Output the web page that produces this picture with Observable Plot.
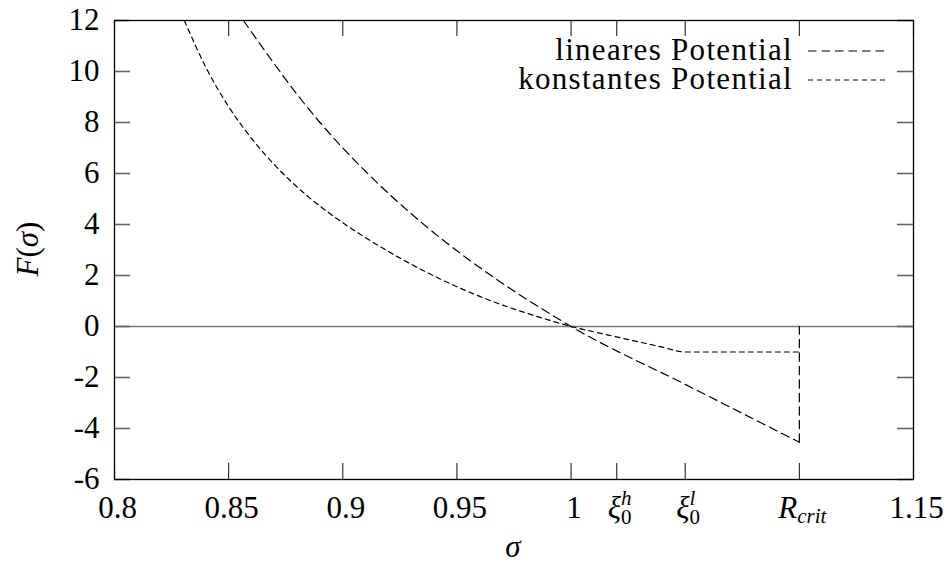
<!DOCTYPE html>
<html>
<head>
<meta charset="utf-8">
<script src="https://cdn.jsdelivr.net/npm/d3@7"></script>
<script src="https://cdn.jsdelivr.net/npm/@observablehq/plot@0.6"></script>
<style>
  html, body { margin: 0; padding: 0; background: #fff; }
</style>
</head>
<body>
<script>
// ---- data ----
const constSigma = [0.8306, 0.84, 0.85, 0.86, 0.87, 0.88, 0.89, 0.90, 0.91, 0.92, 0.93, 0.94, 0.95, 0.96, 0.97, 0.98, 0.99, 1.00, 1.01, 1.02, 1.03, 1.04, 1.05, 1.10];
const constF     = [12.0, 10.17, 8.62, 7.38, 6.35, 5.47, 4.72, 4.07, 3.48, 2.94, 2.44, 1.98, 1.56, 1.18, 0.84, 0.54, 0.26, 0.0, -0.21, -0.41, -0.61, -0.81, -1.0, -1.0];

const linSigma = [0.8565, 0.86, 0.87, 0.88, 0.89, 0.90, 0.91, 0.92, 0.93, 0.94, 0.95, 0.96, 0.97, 0.98, 0.99, 1.00, 1.05, 1.10, 1.10];
const linF     = [12.0, 11.55, 10.3, 9.1, 8.0, 7.0, 6.08, 5.22, 4.42, 3.67, 2.97, 2.31, 1.69, 1.1, 0.54, 0.0, -2.27, -4.54, 0.0];

const yTicks = [-6, -4, -2, 0, 2, 4, 6, 8, 10, 12];
const xTicks = [0.8, 0.85, 0.9, 0.95, 1, 1.02, 1.05, 1.1, 1.15];
const xTickLabels = ["0.8", "0.85", "0.9", "0.95", "1", "ξ0h", "ξ0l", "Rcrit", "1.15"];
const seriesNames = ["lineares Potential", "konstantes Potential"];

// ---- layout ----
const W = 946, H = 565, mL = 114, mR = 33, mT = 20, mB = 86;
const plotW = W - mL - mR, plotH = H - mT - mB;
const TICK = 16;
const FONT = "'Liberation Serif', 'Times New Roman', Times, Tinos, 'Noto Serif', 'DejaVu Serif', FreeSerif, 'Nimbus Roman', serif";

const constData = constSigma.map((s, i) => ({s, f: constF[i]}));
const linData = linSigma.map((s, i) => ({s, f: linF[i]}));
const linCurve = linData.slice(0, linData.length - 1);
const linDrop = linData.slice(linData.length - 2);

const plot = Plot.plot({
  width: W, height: H,
  marginLeft: mL, marginRight: mR, marginTop: mT, marginBottom: mB,
  x: {domain: [0.8, 1.15]},
  y: {domain: [-6, 12]},
  style: {fontFamily: FONT, fontSize: "31px", background: "#fff", color: "#000", overflow: "visible"},
  marks: [
    Plot.ruleY([0], {stroke: "#777", strokeWidth: 1.6}),
    Plot.tickX(xTicks, {x: d => d, insetTop: plotH - TICK, stroke: "#222", strokeWidth: 1.1}),
    Plot.tickX(xTicks, {x: d => d, insetBottom: plotH - TICK, stroke: "#222", strokeWidth: 1.1}),
    Plot.tickY(yTicks, {y: d => d, insetRight: plotW - TICK, stroke: "#666", strokeWidth: 1.6}),
    Plot.tickY(yTicks, {y: d => d, insetLeft: plotW - TICK, stroke: "#666", strokeWidth: 1.6}),
    Plot.line(constData, {x: "s", y: "f", curve: "monotone-x", stroke: "#000", strokeWidth: 1.2, strokeDasharray: "5,4"}),
    Plot.line(linCurve, {x: "s", y: "f", curve: "monotone-x", stroke: "#000", strokeWidth: 1.2, strokeDasharray: "8.5,5"}),
    Plot.line(linDrop, {x: "s", y: "f", stroke: "#000", strokeWidth: 1.2, strokeDasharray: "8.5,5"}),
    Plot.frame({stroke: "#000", strokeWidth: 1.3}),
    Plot.axisY({ticks: yTicks, tickSize: 0, tickPadding: 15, tickFormat: d => String(d), label: null, fontFamily: FONT}),
    Plot.axisX({ticks: xTicks, tickSize: 0, tickPadding: 16, dx: 3, fontFamily: FONT,
      tickFormat: d => xTickLabels[xTicks.indexOf(d)], label: null})
  ]
});
document.body.appendChild(plot);

const svg = d3.select(plot);
svg.style("font-family", FONT);

// rich math tick labels
const rich = {
  "ξ0h": t => {
    t.append("tspan").attr("font-style", "italic").text("ξ");
    t.append("tspan").attr("font-size", 21).attr("dy", 6).text("0");
    t.append("tspan").attr("font-size", 21).attr("font-style", "italic").attr("dx", -10.5).attr("dy", -19).text("h");
  },
  "ξ0l": t => {
    t.append("tspan").attr("font-style", "italic").text("ξ");
    t.append("tspan").attr("font-size", 21).attr("dy", 6).text("0");
    t.append("tspan").attr("font-size", 21).attr("font-style", "italic").attr("dx", -10.5).attr("dy", -19).text("l");
  },
  "Rcrit": t => {
    t.append("tspan").attr("font-style", "italic").text("R");
    t.append("tspan").attr("font-size", 21).attr("font-style", "italic").attr("dy", 5).text("crit");
  }
};
svg.selectAll('g[aria-label="x-axis tick label"] text').each(function () {
  const t = d3.select(this);
  const s = t.text();
  if (rich[s]) { t.text(null); rich[s](t); }
});

// axis titles
const yl = svg.append("text")
  .attr("transform", "translate(38,249) rotate(-90)")
  .attr("text-anchor", "middle")
  .style("font-family", FONT).attr("font-size", 31).attr("fill", "#000");
yl.append("tspan").attr("font-style", "italic").text("F");
yl.append("tspan").text("(");
yl.append("tspan").attr("font-style", "italic").text("σ");
yl.append("tspan").text(")");

svg.append("text")
  .attr("x", 513).attr("y", 557)
  .attr("text-anchor", "middle")
  .style("font-family", FONT).attr("font-size", 31).attr("font-style", "italic")
  .attr("fill", "#000").text("σ");

// legend
const dashes = ["8.5,5", "5,4"];
seriesNames.forEach((name, i) => {
  const yb = 60 + i * 29;
  svg.append("text")
    .attr("x", 793).attr("y", yb)
    .attr("text-anchor", "end")
    .style("font-family", FONT).attr("font-size", 31)
    .attr("letter-spacing", "1.3px")
    .attr("fill", "#000").text(name);
  svg.append("line")
    .attr("x1", 808).attr("x2", 886)
    .attr("y1", yb - 9).attr("y2", yb - 9)
    .attr("stroke", "#000").attr("stroke-width", 1.2)
    .attr("stroke-dasharray", dashes[i]);
});
</script>
</body>
</html>
